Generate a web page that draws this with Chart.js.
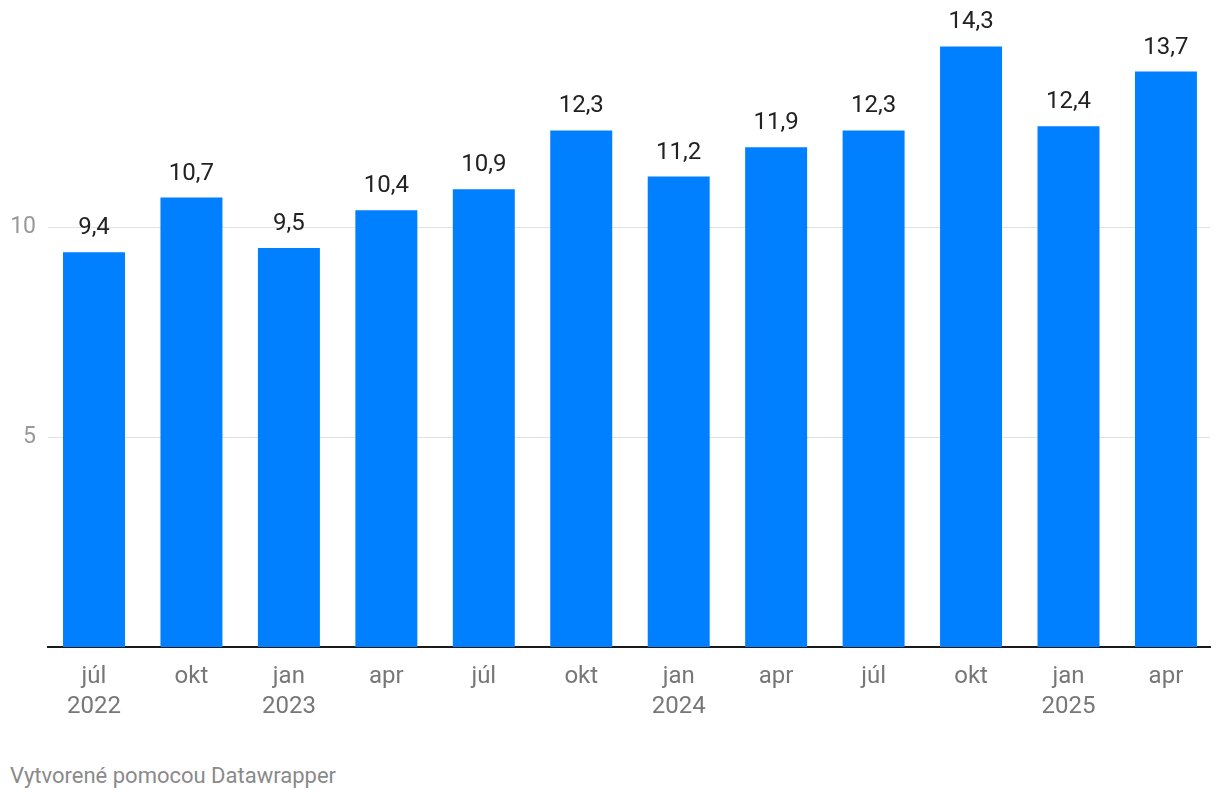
<!DOCTYPE html>
<html>
<head>
<meta charset="utf-8">
<script src="https://cdn.jsdelivr.net/npm/chart.js@4"></script>
<style>
  body { margin: 0; background: #fff; font-family: Roboto, sans-serif; }
  #wrap { position: relative; width: 1220px; height: 737px; }
  #note { position: absolute; left: 10px; top: 763px; font-size: 22px; color: #8a8a8a; }
</style>
</head>
<body>
<div id="wrap"><canvas id="chart"></canvas></div>
<div id="note">Vytvorené pomocou Datawrapper</div>
<script>
const months = ['júl', 'okt', 'jan', 'apr', 'júl', 'okt', 'jan', 'apr', 'júl', 'okt', 'jan', 'apr']
const years = ['2022', '', '2023', '', '', '', '2024', '', '', '', '2025', '']
const values = [9.4, 10.7, 9.5, 10.4, 10.9, 12.3, 11.2, 11.9, 12.3, 14.3, 12.4, 13.7]
const yTicks = [5, 10]

const labels = months.map((m, i) => years[i] ? [m, years[i]] : m)
const points = values.map((v, i) => ({ x: i, y: v }))

const valueLabels = {
  id: 'valueLabels',
  afterDatasetsDraw(chart) {
    const ctx = chart.ctx
    ctx.save()
    ctx.font = '24px Roboto'
    ctx.fillStyle = '#222'
    ctx.textAlign = 'center'
    ctx.textBaseline = 'middle'
    chart.getDatasetMeta(0).data.forEach((bar, i) => {
      ctx.fillText(values[i].toFixed(1).replace('.', ','), bar.x, bar.y - 24)
    })
    ctx.restore()
  }
}

new Chart(document.getElementById('chart'), {
  type: 'bar',
  data: {
    datasets: [{
      data: points,
      backgroundColor: '#0080ff',
      barPercentage: 0.636,
      categoryPercentage: 1
    }]
  },
  options: {
    responsive: true,
    maintainAspectRatio: false,
    animation: false,
    layout: { padding: { top: 17, right: 10, left: 0, bottom: 0 } },
    plugins: { legend: { display: false }, tooltip: { enabled: false } },
    scales: {
      x: {
        type: 'linear',
        offset: false,
        min: -0.472,
        max: 11.452,
        afterBuildTicks(scale) {
          scale.ticks = labels.map((l, i) => ({ value: i }))
        },
        grid: { display: false, drawTicks: false },
        border: { display: true, color: '#1a1a1a', width: 2 },
        ticks: {
          color: '#777',
          font: { family: 'Roboto', size: 24, lineHeight: 1.25 },
          padding: 15,
          maxRotation: 0,
          autoSkip: false,
          callback: (v) => labels[v]
        },
        afterFit(scale) { scale.height = 90 }
      },
      y: {
        min: 0,
        max: 15,
        afterBuildTicks(scale) {
          scale.ticks = yTicks.map(v => ({ value: v }))
        },
        grid: { color: '#e2e2e2', lineWidth: 1, drawTicks: false },
        border: { display: false },
        ticks: {
          color: '#999',
          font: { family: 'Roboto', size: 23 },
          padding: 12
        },
        afterFit(scale) {
          scale.width = 48
          scale.paddingTop = 0
          scale.paddingBottom = 0
        }
      }
    }
  },
  plugins: [valueLabels]
})
</script>
</body>
</html>
